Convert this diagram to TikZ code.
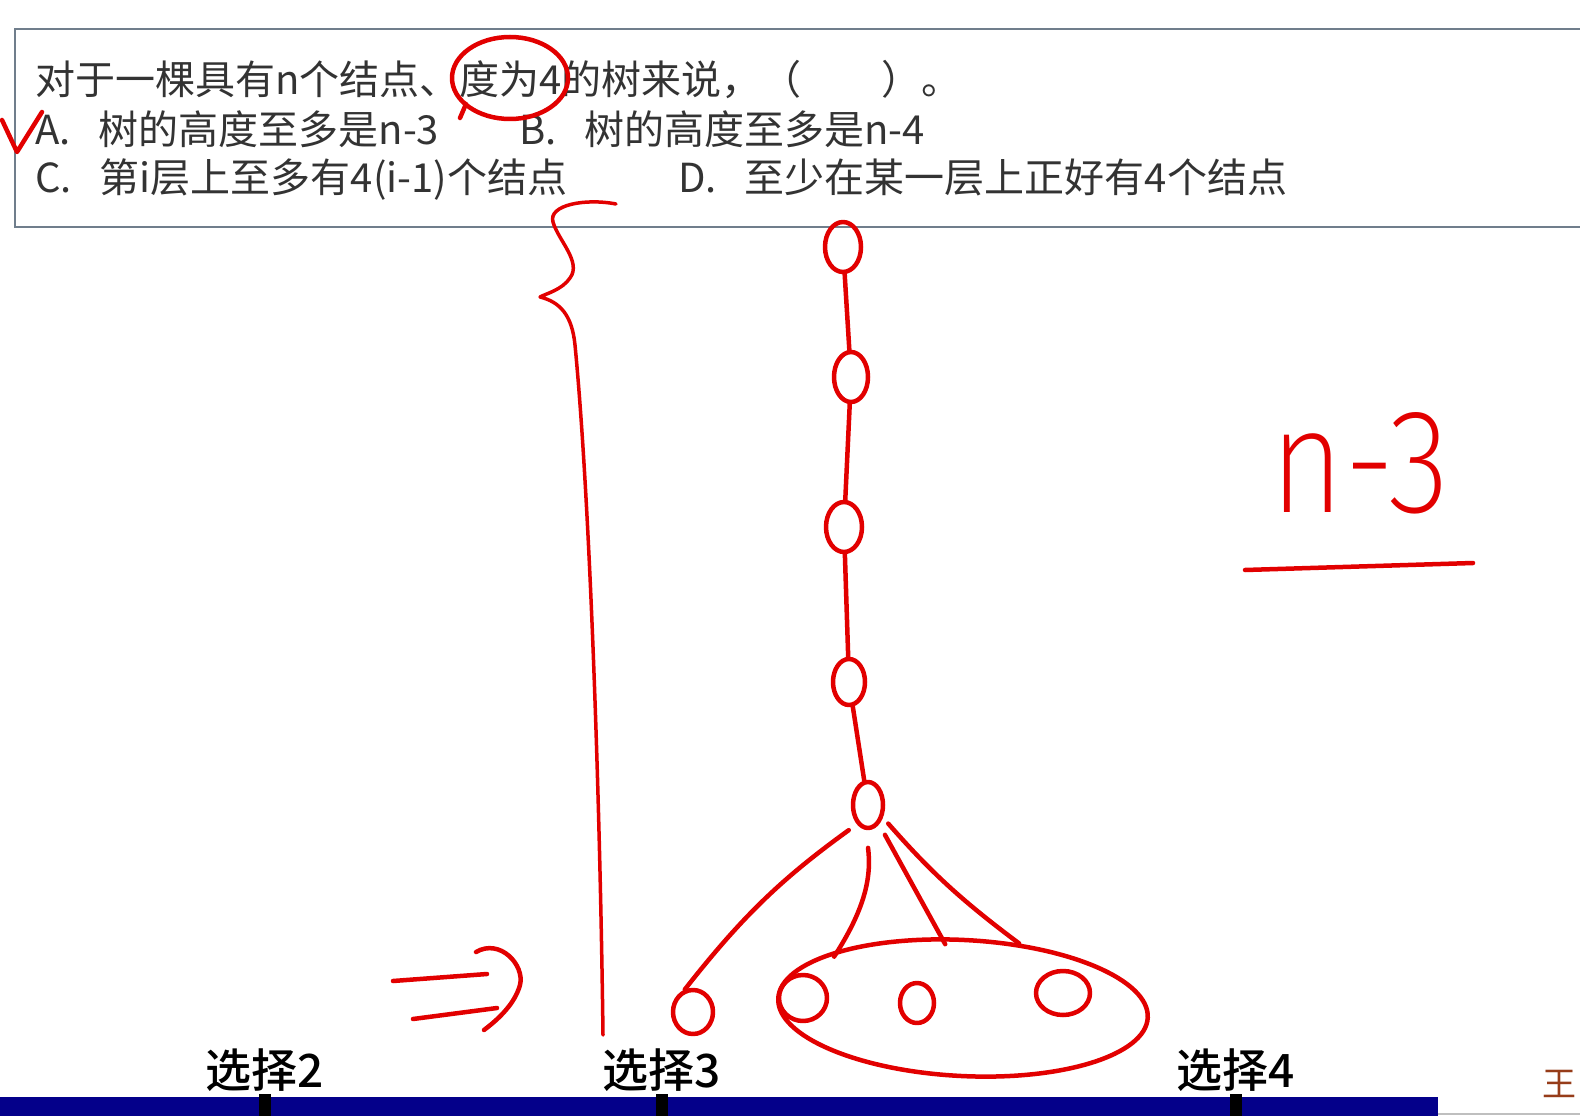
\documentclass[tikz,border=0pt]{standalone}
\usepackage{fontspec}
\setmainfont{Noto Sans CJK SC}
\IfFontExistsTF{Fira Sans ExtraLight}{\newfontfamily\handfont{Fira Sans ExtraLight}}{\newfontfamily\handfont{Fira Sans}}
\IfFontExistsTF{Noto Sans CJK SC Medium}{\newfontfamily\tabfont{Noto Sans CJK SC Medium}}{\newfontfamily\tabfont{Noto Sans CJK SC}}
\usetikzlibrary{shapes.geometric}
\definecolor{pen}{RGB}{226,0,0}
\definecolor{barblue}{RGB}{4,0,138}
\definecolor{frame}{RGB}{112,126,140}
\definecolor{seal}{RGB}{150,60,25}
\tikzset{
	ink/.style={draw=pen,line width=4.5pt,line cap=round,line join=round},
	knot/.style={ink,ellipse,inner sep=0pt},
	qline/.style={anchor=base west,inner sep=0pt,font=\fontsize{40}{48}\selectfont,text=black!80},
	tab/.style={anchor=base,inner sep=0pt,font=\fontsize{46}{54}\tabfont},
}

\begin{document}
\begin{tikzpicture}[x=1pt,y=-1pt]
	\useasboundingbox (0,0) rectangle (1580,1116);
	\fill[white] (0,0) rectangle (1580,1116);
	% question box
	\draw[frame,line width=2.5pt] (1600,29) -- (15,29) -- (15,227) -- (1600,227);
	\node[qline] (q0) at (35,94) {对于一棵具有n个结点、度为4的树来说，（　　）。};
	\node[qline] (qa) at (35,144) {A.\hspace{0.7em}树的高度至多是n-3};
	\node[qline] (qb) at (519,144) {B.\hspace{0.7em}树的高度至多是n-4};
	\node[qline] (qc) at (35,192) {C.\hspace{0.7em}第i层上至多有4(i-1)个结点};
	\node[qline] (qd) at (678,192) {D.\hspace{0.7em}至少在某一层上正好有4个结点};
	
	% bottom bar
	\fill[barblue] (0,1097) rectangle (1438,1116);
	\draw[gray!50,line width=1.5pt] (1438,1114) -- (1580,1114);
	\foreach \name/\x/\k in {s2/265/2,s3/662/3,s4/1236/4}{
		\fill[black] (\x-6,1094) rectangle (\x+6,1116);
		\node[tab] (\name) at (\x,1087) {选择\k};
	}
	\node[anchor=west,inner sep=0pt,font=\fontsize{34}{38}\selectfont,text=seal] (wang) at (1542,1084) {王};
	
	% marks on the question
	\draw[ink] (2,120) -- (17,152) -- (42,112);
	\draw[ink] (510,78) ellipse [x radius=58,y radius=41];
	\draw[ink] (466,104) -- (460,118);
	
	% brace and arrow
	\draw[ink,line width=3.5pt] (616,204) .. controls (585,198) and (548,205) .. (553,222)
		.. controls (558,240) and (582,262) .. (570,278)
		.. controls (562,290) and (545,294) .. (540,297)
		.. controls (560,302) and (572,315) .. (575,345)
		.. controls (590,500) and (600,800) .. (603,1035);
	\draw[ink] (393,981) -- (487,974);
	\draw[ink] (413,1019) -- (497,1008);
	\draw[ink] (476,952) .. controls (500,938) and (525,965) .. (520,985)
		.. controls (515,1003) and (500,1018) .. (484,1030);
	
	% the tree
	\foreach \name/\x/\y/\w/\h in {n1/843/247/36/50,n2/851/377/34/50,n3/844/527/36/50,n4/849/682/32/46,n5/868/805/30/46,
		c1/693/1012/40/44,c2/803/998/48/46,c3/917/1003/34/40,c4/1063/993/54/44}
		\node[knot,minimum width=\w,minimum height=\h] (\name) at (\x,\y) {};
	\node[knot,minimum width=370,minimum height=136,rotate=-3] (grp) at (963,1008) {};
	\foreach \a/\b in {n1/n2,n2/n3,n3/n4,n4/n5}
		\draw[ink] (\a) -- (\b);
	\draw[ink,shorten <=10pt] (n5.240) to[bend right=8] (c1.110);
	\draw[ink,shorten <=18pt,shorten >=-8pt] (n5.265) to[bend left=20] (grp.158);
	\draw[ink,shorten <=12pt,shorten >=-8pt] (n5.300) -- (grp.110);
	\draw[ink,shorten <=8pt] (n5.320) to[bend right=6] (grp.52);
	
	% height
	\node[text=pen,inner sep=0pt] (nthree) at (1360,463) {\resizebox{178pt}{100pt}{\handfont n-3}};
	\draw[ink] (1245,570) -- (1473,563);
\end{tikzpicture}
\end{document}
